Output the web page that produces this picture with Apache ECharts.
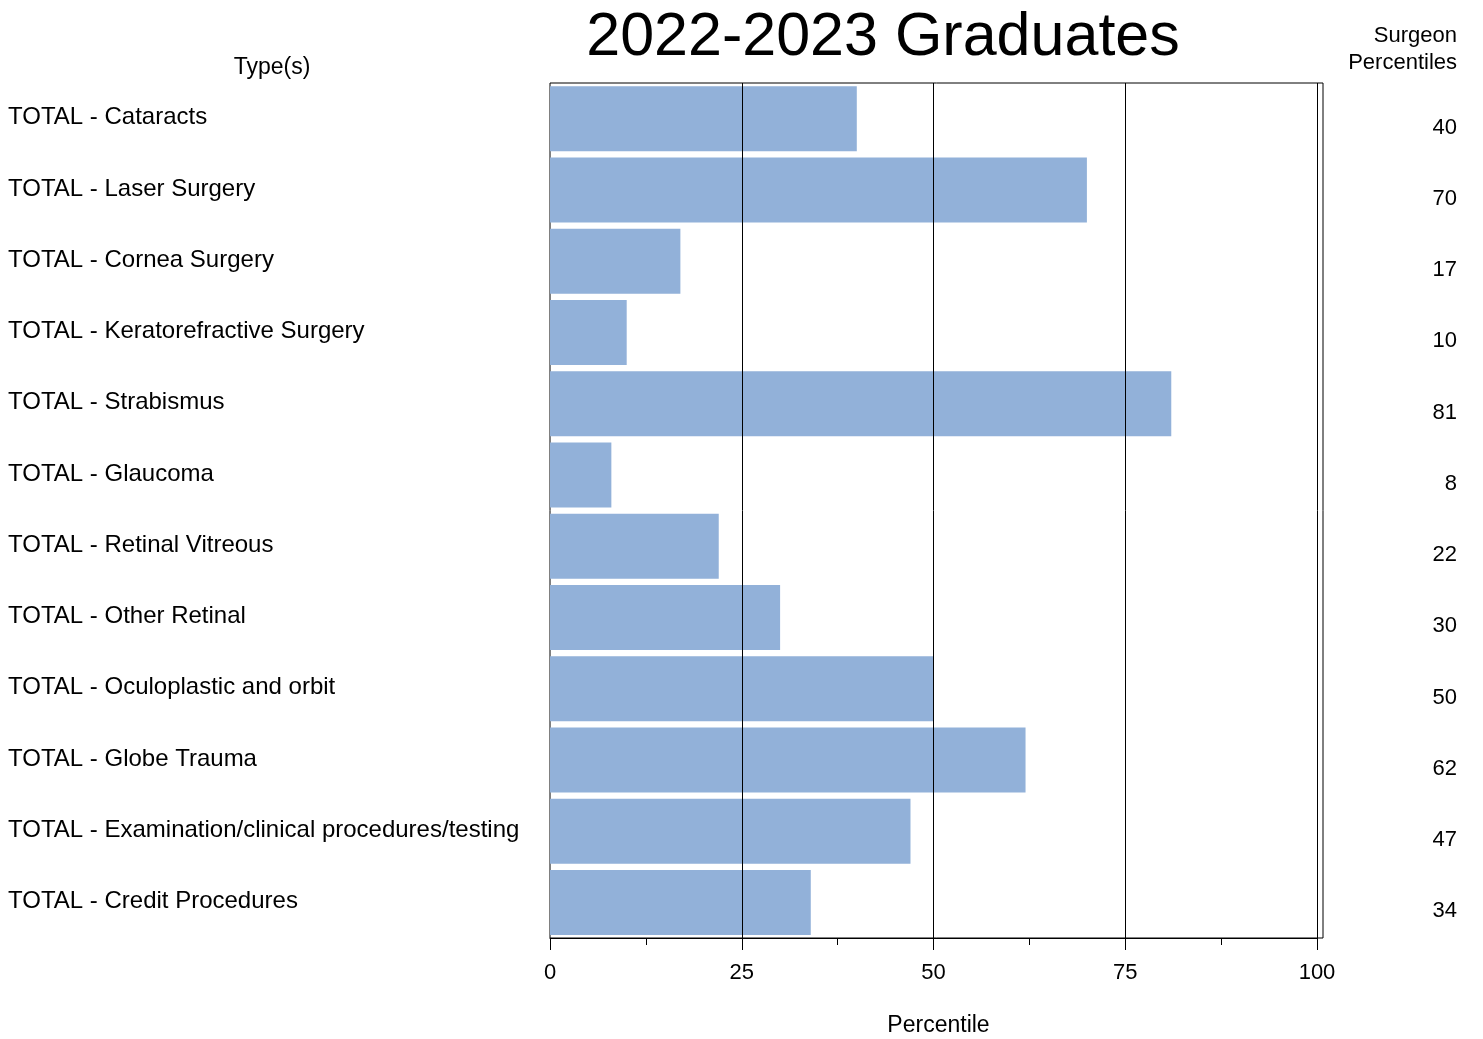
<!DOCTYPE html>
<html>
<head>
<meta charset="utf-8">
<script src="https://cdn.jsdelivr.net/npm/echarts@6/dist/echarts.min.js"></script>
<style>html,body{margin:0;padding:0;background:#fff}#c{width:1483px;height:1039px}</style>
</head>
<body>
<div id="c"></div>
<script>
const categories = [
  'TOTAL - Cataracts',
  'TOTAL - Laser Surgery',
  'TOTAL - Cornea Surgery',
  'TOTAL - Keratorefractive Surgery',
  'TOTAL - Strabismus',
  'TOTAL - Glaucoma',
  'TOTAL - Retinal Vitreous',
  'TOTAL - Other Retinal',
  'TOTAL - Oculoplastic and orbit',
  'TOTAL - Globe Trauma',
  'TOTAL - Examination/clinical procedures/testing',
  'TOTAL - Credit Procedures'
];
const percentiles = [40, 70, 17, 10, 81, 8, 22, 30, 50, 62, 47, 34];
const xTicks = [0, 25, 50, 75, 100];
const gridLineValues = [25, 50, 75, 100];

const FONT = "'Liberation Sans', Arial, sans-serif";
const chart = echarts.init(document.getElementById('c'), null, {renderer: 'canvas'});
chart.setOption({
  animation: false,
  backgroundColor: '#fff',
  textStyle: {fontFamily: FONT, color: '#000'},
  title: [
    {text: '2022-2023 Graduates', left: 883, top: 8, padding: 0, textAlign: 'center',
     textStyle: {fontFamily: FONT, fontSize: 61, fontWeight: 'normal', color: '#000'}},
    {text: 'Type(s)', left: 272, top: 56, padding: 0, textAlign: 'center',
     textStyle: {fontFamily: FONT, fontSize: 23, fontWeight: 'normal', color: '#000'}},
    {text: 'Surgeon\nPercentiles', left: 1457, top: 22, padding: 0, textAlign: 'right',
     textStyle: {fontFamily: FONT, fontSize: 22, fontWeight: 'normal', color: '#000', lineHeight: 27}}
  ],
  grid: [
    {left: 550, right: 166, top: 83, bottom: 101, show: false, containLabel: false, outerBoundsMode: 'none'},
    {left: 550, right: 160, top: 83, bottom: 101, show: true, borderColor: '#000', borderWidth: 1,
     backgroundColor: 'transparent', containLabel: false, outerBoundsMode: 'none'}
  ],
  xAxis: [
    {
      gridIndex: 0, type: 'value', min: xTicks[0], max: xTicks[xTicks.length - 1], interval: 25,
      name: 'Percentile', nameLocation: 'middle', nameGap: 76,
      nameTextStyle: {fontFamily: FONT, fontSize: 23, color: '#000', padding: [0, 0, 0, 10]},
      axisLine: {show: true, lineStyle: {color: '#000', width: 1}},
      axisTick: {show: true, length: 12, lineStyle: {color: '#000', width: 1}},
      minorTick: {show: true, splitNumber: 2, length: 7, lineStyle: {color: '#000', width: 1}},
      splitLine: {show: false},
      axisLabel: {fontFamily: FONT, fontSize: 22, color: '#000', margin: 24}
    },
    {gridIndex: 1, type: 'value', min: 0, max: 1, show: false}
  ],
  yAxis: [
    {
      gridIndex: 0, type: 'category', data: categories, inverse: true, position: 'left',
      axisLine: {show: false}, axisTick: {show: false}, splitLine: {show: false},
      axisLabel: {fontFamily: FONT, fontSize: 24, color: '#000', align: 'left', margin: 542,
                  verticalAlign: 'bottom', lineHeight: 2}
    },
    {
      gridIndex: 0, type: 'category', data: percentiles.map(String), inverse: true, position: 'right',
      axisLine: {show: false}, axisTick: {show: false}, splitLine: {show: false},
      axisLabel: {fontFamily: FONT, fontSize: 22, color: '#000', align: 'right', margin: 140,
                  verticalAlign: 'top', lineHeight: 18}
    },
    {gridIndex: 1, type: 'value', min: 0, max: 1, show: false}
  ],
  series: [{
    type: 'bar',
    xAxisIndex: 0, yAxisIndex: 0,
    data: percentiles,
    barWidth: 65,
    itemStyle: {color: '#92B1D9'},
    silent: true,
    markLine: {
      silent: true, symbol: 'none', label: {show: false},
      lineStyle: {color: '#000', width: 1, type: 'solid'},
      emphasis: {disabled: true},
      data: gridLineValues.map(v => ({xAxis: v}))
    }
  }]
});
</script>
</body>
</html>
